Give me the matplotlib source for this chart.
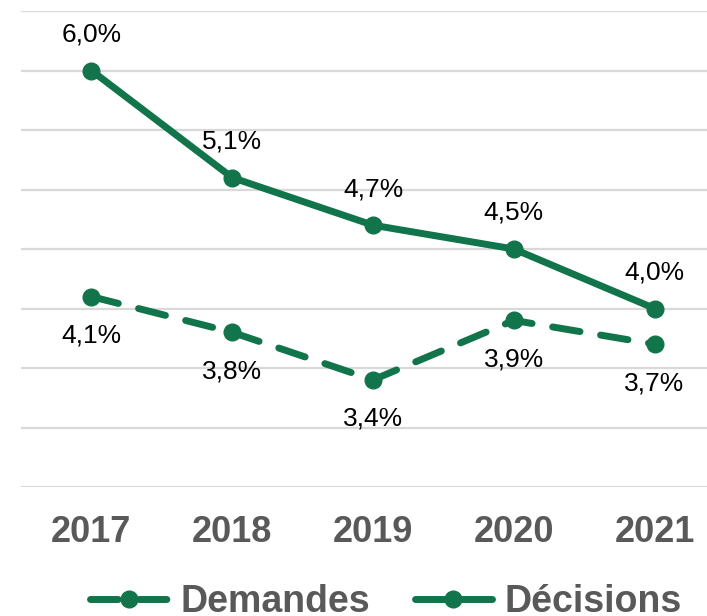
import matplotlib
matplotlib.use('Agg')
import matplotlib.pyplot as plt

# Data
years = ['2017', '2018', '2019', '2020', '2021']
demandes = [4.1, 3.8, 3.4, 3.9, 3.7]
decisions = [6.0, 5.1, 4.7, 4.5, 4.0]

green = '#12744a'
grey = '#595959'
plt.rcParams['font.family'] = ['Liberation Sans', 'DejaVu Sans']

fig = plt.figure(figsize=(7.07, 6.16), dpi=100)
ax = fig.add_axes([21 / 707, 129 / 616, 704 / 707, 476 / 616])

x = range(len(years))
l1, = ax.plot(x, demandes, color=green, lw=5, linestyle=(0, (4, 3)),
              marker='o', markersize=12, dash_capstyle='round',
              solid_capstyle='round', label='Demandes', zorder=3)
l2, = ax.plot(x, decisions, color=green, lw=5, marker='o', markersize=12,
              solid_capstyle='round', label='Décisions', zorder=3)

# Data labels
for i, v in enumerate(decisions):
    ax.annotate(f'{v:.1f}%'.replace('.', ','), (i, v), xytext=(0, 26),
                textcoords='offset points', ha='center', va='center',
                fontsize=19, color='black')
for i, v in enumerate(demandes):
    ax.annotate(f'{v:.1f}%'.replace('.', ','), (i, v), xytext=(0, -28),
                textcoords='offset points', ha='center', va='center',
                fontsize=19, color='black')

ax.set_xlim(-0.5, len(years) - 0.5)
ax.set_ylim(2.5, 6.5)
ax.set_yticks([2.5 + 0.5 * k for k in range(9)])
ax.set_yticklabels([])
ax.set_xticks(list(x))
ax.set_xticklabels(years, fontsize=26, fontweight='bold', color=grey)
ax.tick_params(axis='both', length=0)
ax.tick_params(axis='x', pad=20)
ax.grid(axis='y', color='#d9d9d9', lw=1.6)
ax.set_axisbelow(True)
for s in ax.spines.values():
    s.set_visible(False)

fig.legend(handles=[l1, l2], loc='center', bbox_to_anchor=(386 / 707, 14 / 616),
           ncol=2, frameon=False, handlelength=2.05, handletextpad=0.35,
           columnspacing=1.2,
           prop={'size': 27, 'weight': 'bold'}, labelcolor=grey)

plt.savefig('out.png', dpi=100)
